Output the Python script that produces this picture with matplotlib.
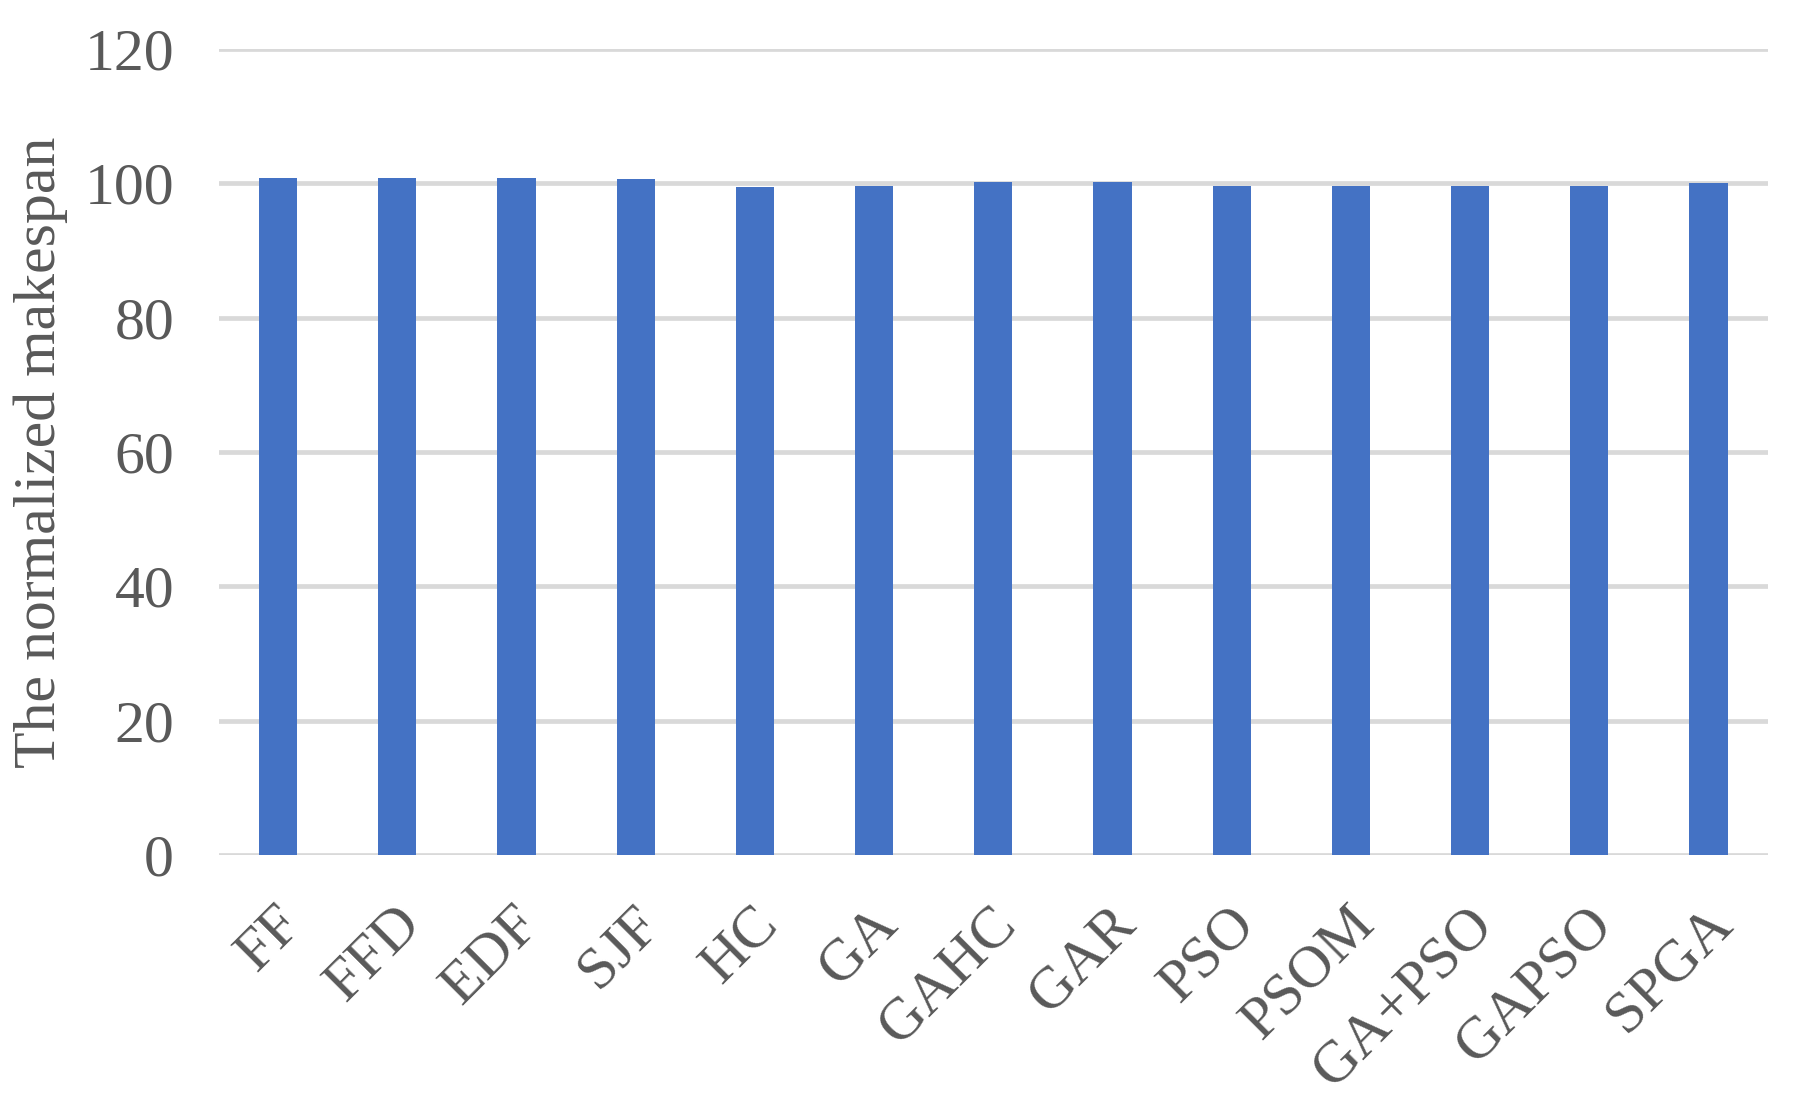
import numpy as np
import matplotlib
matplotlib.use("Agg")
import matplotlib.pyplot as plt
from matplotlib.transforms import ScaledTranslation

# --- data ---
methods = ['FF', 'FFD', 'EDF', 'SJF', 'HC', 'GA', 'GAHC', 'GAR', 'PSO',
           'PSOM', 'GA+PSO', 'GAPSO', 'SPGA']
makespan = [100.8, 100.8, 100.8, 100.65, 99.45, 99.6, 100.2, 100.2, 99.6,
            99.6, 99.6, 99.6, 100.05]
y_ticks = [0, 20, 40, 60, 80, 100, 120]

BAR_COLOR = '#4472C4'
GRID_COLOR = '#D9D9D9'
TEXT_COLOR = '#595959'

plt.rcParams['font.family'] = ['Liberation Serif', 'DejaVu Serif']

fig = plt.figure(figsize=(18.06, 11.08), dpi=100)
ax = fig.add_axes([0.121, 0.2283, 0.858, 0.7275])

x = np.arange(len(methods))
ax.bar(x, makespan, width=0.32, color=BAR_COLOR, zorder=3)

ax.set_xlim(-0.5, len(methods) - 0.5)
ax.set_ylim(0, 120)
ax.set_yticks(y_ticks)
ax.yaxis.grid(True, color=GRID_COLOR, linewidth=3.4, zorder=0)
ax.set_axisbelow(True)

for s in ax.spines.values():
    s.set_visible(False)

ax.tick_params(axis='both', length=0, labelsize=43, colors=TEXT_COLOR)
ax.tick_params(axis='y', pad=32)
ax.set_xticks(x)
ax.set_xticklabels(methods, rotation=45, ha='right', va='top',
                   rotation_mode='anchor')
ax.tick_params(axis='x', pad=30)
# nudge the rotated labels so their ends sit under the bars
offset = ScaledTranslation(-0.04, 0, fig.dpi_scale_trans)
for lab in ax.get_xticklabels():
    lab.set_transform(lab.get_transform() + offset)

ax.set_ylabel('The normalized makespan', fontsize=43, color=TEXT_COLOR,
              labelpad=12)

fig.savefig('out.png', dpi=100)
